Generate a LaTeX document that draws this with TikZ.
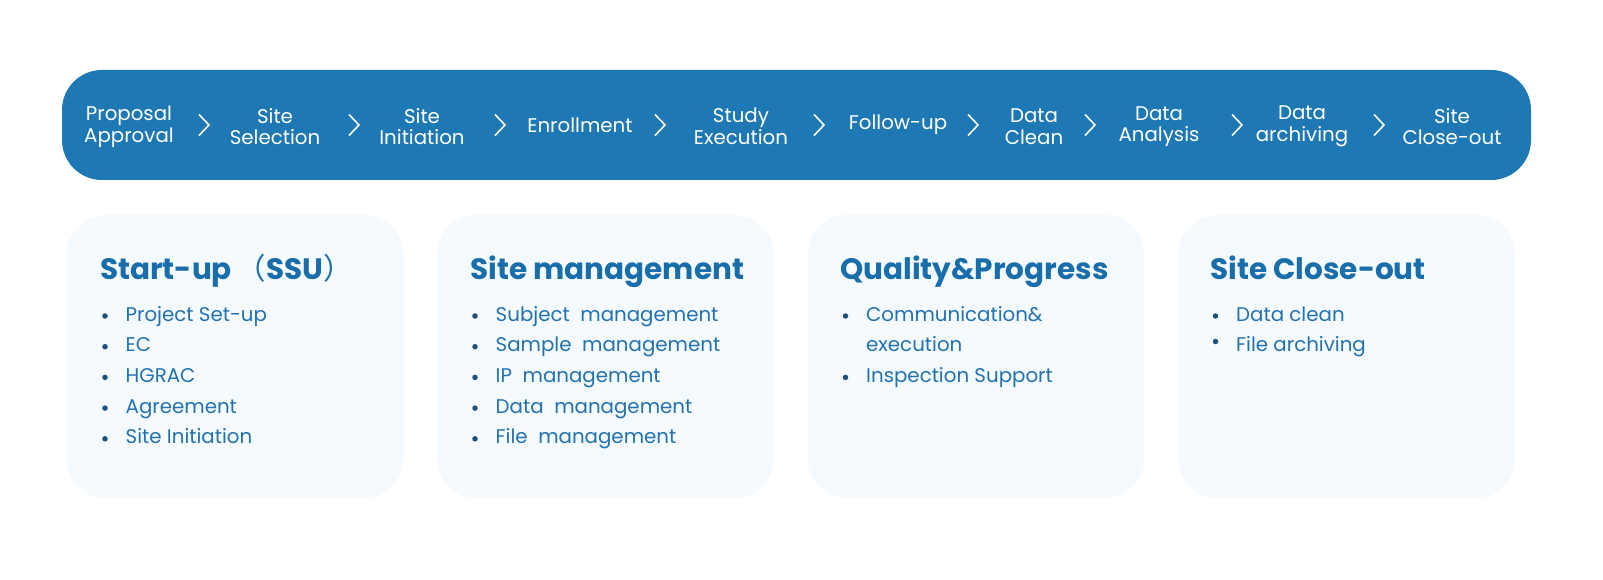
\documentclass[tikz,border=0pt]{standalone}
\usepackage{fontspec}
\setmainfont{Poppins}
\newfontfamily\cjk{Noto Sans CJK SC}
\definecolor{barblue}{HTML}{1E78B4}
\definecolor{cardbg}{HTML}{F5FAFF}
\definecolor{titleblue}{HTML}{186DAB}
\definecolor{itemblue}{HTML}{2272B0}
\definecolor{dotblue}{HTML}{1B4F7C}
\tikzset{
  bar/.style={fill=barblue, draw=none, rounded corners=40pt, minimum width=1469pt, minimum height=110pt, inner sep=0pt},
  steplbl/.style={text=white, align=center, font=\fontsize{19.8}{21.5}\selectfont, inner sep=0pt},
  chev/.style={draw=white, line width=1.6pt, line join=miter},
  card/.style={fill=cardbg, draw=none, rounded corners=40pt, minimum width=337pt, minimum height=283pt, inner sep=0pt},
  cardtitle/.style={anchor=base west, text=titleblue, font=\fontsize{29.5}{31}\selectfont\bfseries, inner sep=0pt},
  item/.style={anchor=base west, text=itemblue, font=\fontsize{19.8}{21}\selectfont, inner sep=0pt},
  dot/.style={fill=dotblue, draw=none, circle, minimum size=5.5pt, inner sep=0pt}
}
\newcommand{\chevat}[1]{\draw[chev] (#1-5,114.5) -- (#1+5,125) -- (#1-5,135.5);}
\begin{document}
\begin{tikzpicture}[x=1pt,y=-1pt]
\useasboundingbox (0,0) rectangle (1603,580);
\fill[white] (0,0) rectangle (1603,580);
% top bar
\node[bar] (bar) at (796.5,125) {};
\node[steplbl] (s1) at (129,126.5) {Proposal\\Approval};
\node[steplbl] (s2) at (275,126.5) {Site\\Selection};
\node[steplbl] (s3) at (422,126.5) {Site\\Initiation};
\node[steplbl] (s4) at (580,125) {Enrollment};
\node[steplbl] (s5) at (741,126.5) {Study\\Execution};
\node[steplbl] (s6) at (898,125) {Follow-up};
\node[steplbl] (s7) at (1034,126.5) {Data\\Clean};
\node[steplbl] (s8) at (1159,126.5) {Data\\Analysis};
\node[steplbl] (s9) at (1302,126.5) {Data\\archiving};
\node[steplbl] (s10) at (1452,126.5) {Site\\Close-out};
\chevat{204}\chevat{354}\chevat{500}\chevat{660}\chevat{819}\chevat{973}\chevat{1090}\chevat{1237}\chevat{1379}
% cards
\node[card] (c1) at (235,356.5) {};
\node[card] (c2) at (605.5,356.5) {};
\node[card] (c3) at (976,356.5) {};
\node[card] (c4) at (1346.5,356.5) {};
% card 1
\node[cardtitle] (t1) at (100,279) {Start-up\,{\mdseries\cjk （}SSU{\mdseries\cjk ）}};
\foreach \y/\txt [count=\i] in {321/Project Set-up, 351.7/EC, 382.4/HGRAC, 413.1/Agreement, 443.8/Site Initiation}{
  \node[item] (i1\i) at (125.5,\y) {\txt};
  \node[dot] (d1\i) at (105,\y-5) {};
}
% card 2
\node[cardtitle] (t2) at (470,279) {Site management};
\foreach \y/\txt [count=\i] in {321/Subject\ \ management, 351.7/Sample\ \ management, 382.4/IP\ \ management, 413.1/Data\ \ management, 443.8/File\ \ management}{
  \node[item] (i2\i) at (495.5,\y) {\txt};
  \node[dot] (d2\i) at (475,\y-5) {};
}
% card 3
\node[cardtitle] (t3) at (840,279) {Quality\&Progress};
\node[item] (i31) at (866,321) {Communication\&};
\node[item] (i32) at (866,351.7) {execution};
\node[item] (i33) at (866,382.4) {Inspection Support};
\node[dot] (d31) at (845.5,316) {};
\node[dot] (d33) at (845.5,377.4) {};
% card 4
\node[cardtitle] (t4) at (1210,279) {Site Close-out};
\node[item] (i41) at (1236,321) {Data clean};
\node[item] (i42) at (1236,351.7) {File archiving};
\node[dot] (d41) at (1215.5,316) {};
\node[dot] (d42) at (1215.5,341.5) {};
\end{tikzpicture}
\end{document}
